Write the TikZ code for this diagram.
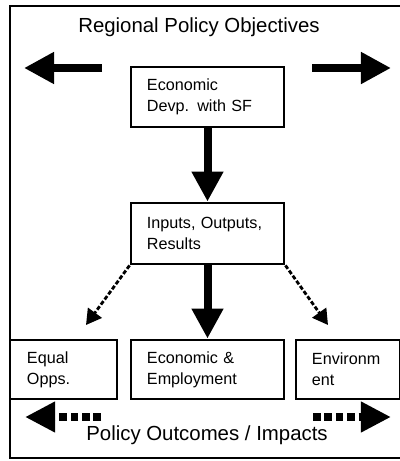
\documentclass[tikz,border=0pt]{standalone}
\usepackage{fontspec}
\setmainfont{Liberation Sans}
\usetikzlibrary{arrows.meta, positioning}
\tikzset{
  box/.style={draw, line width=2pt, align=left, inner ysep=0pt, inner xsep=0.4cm,
    text width=3.025cm, font=\fontsize{11.5}{15}\selectfont},
  bigarrow/.style={line width=0.2cm, -{Triangle[length=0.75cm, width=0.75cm]}},
  dotarrow/.style={line width=0.2cm, dash pattern=on 0.19cm off 0.095cm,
    -{Triangle[length=0.75cm, width=0.72cm]}},
  dasharrow/.style={line width=2pt, dash pattern=on 3pt off 1.5pt,
    -{Triangle[length=0.38cm, width=0.42cm]}},
  heading/.style={font=\fontsize{14.5}{17}\selectfont}
}
\begin{document}
\begin{tikzpicture}[x=0.025cm, y=-0.025cm]
  \useasboundingbox (0,0) rectangle (400,461);
  \draw[line width=1.5pt] (400,6) -| (10,458) -- (400,458);
  \node[heading] (objectives) at (199,27) {Regional Policy Objectives};
  \node[box, minimum height=1.5cm] (econ) at (207.5,97) {Economic\\Devp. with SF};
  \node[box, minimum height=1.525cm] (inputs) at (207.5,233.5) {Inputs, Outputs,\\Results};
  \node[box, minimum height=1.475cm, text width=1.825cm, inner xsep=0.425cm] (equal) at (63.5,369.5) {Equal\\Opps.};
  \node[box, minimum height=1.475cm] (employ) at (207.5,369.5) {Economic \&\\Employment};
  \node[box, minimum height=1.475cm, text width=1.8cm, inner xsep=0.4cm] (envir) at (348,369.5) {Environm\\ent};
  \node[heading] (outcomes) at (207,435) {Policy Outcomes / Impacts};
  \coordinate (objLtail) at (102,68);
  \coordinate (objLtip) at (24,68);
  \coordinate (objRtail) at (312,68);
  \coordinate (objRtip) at (391,68);
  \coordinate (outLtail) at (101,417);
  \coordinate (outLtip) at (25,417);
  \coordinate (outRtail) at (313,417);
  \coordinate (outRtip) at (391,417);
  \coordinate (equalTip) at (86,325);
  \coordinate (envirTip) at (328,325);
  \draw[bigarrow] (objLtail) -- (objLtip);
  \draw[bigarrow] (objRtail) -- (objRtip);
  \draw[bigarrow] (econ) -- (inputs);
  \draw[bigarrow] (inputs) -- (employ);
  \draw[dasharrow] (inputs.south west) -- (equalTip);
  \draw[dasharrow] (inputs.south east) -- (envirTip);
  \draw[dotarrow] (outLtail) -- (outLtip);
  \draw[dotarrow] (outRtail) -- (outRtip);
\end{tikzpicture}
\end{document}
